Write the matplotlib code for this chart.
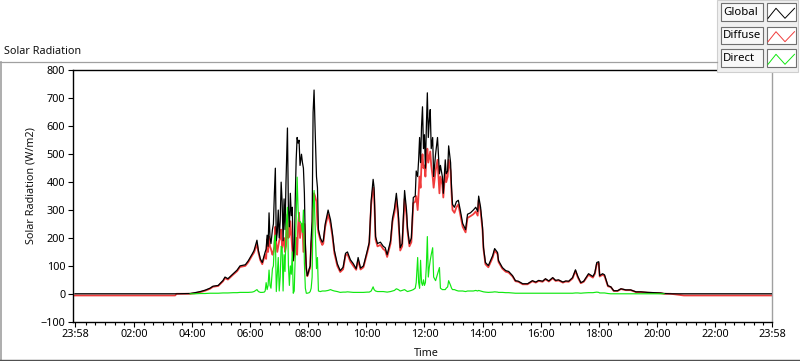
import numpy as np
import matplotlib
matplotlib.use("Agg")
import matplotlib.pyplot as plt
from matplotlib.patches import Rectangle
from matplotlib.ticker import FixedLocator

nan = np.nan

# time of day in minutes after midnight (first point is 23:58 of the day before)
minutes = [-2, 205, 208, 236, 246, 257, 267, 277, 283, 294, 304, 308, 314, 325, 333, 339, 350, 356, 364, 368,
           374, 377, 381, 385, 389, 391, 393, 395, 397, 399, 401, 403, 406, 408, 410, 412, 414, 416, 418, 420,
           422, 424, 426, 428, 430, 432, 434, 437, 439, 441, 443, 445, 447, 449, 451, 453, 455, 457, 459, 461,
           463, 466, 468, 470, 472, 474, 476, 478, 480, 482, 484, 486, 488, 490, 492, 494, 497, 499, 501, 505,
           509, 511, 515, 521, 526, 530, 534, 540, 546, 552, 557, 561, 567, 573, 579, 583, 588, 594, 602, 606,
           610, 614, 616, 619, 623, 629, 635, 639, 643, 650, 654, 658, 662, 666, 670, 674, 679, 683, 685, 689,
           693, 697, 701, 703, 706, 708, 710, 712, 714, 716, 718, 720, 722, 724, 726, 728, 730, 732, 734, 737,
           739, 743, 747, 751, 753, 757, 759, 763, 765, 768, 770, 774, 776, 778, 782, 786, 790, 794, 799, 805,
           809, 815, 821, 826, 830, 832, 836, 840, 842, 846, 852, 861, 865, 871, 873, 881, 888, 894, 902, 908,
           914, 923, 933, 943, 950, 956, 964, 970, 977, 985, 991, 997, 1006, 1012, 1018, 1026, 1032, 1037, 1043, 1049,
           1059, 1068, 1072, 1076, 1080, 1082, 1088, 1092, 1099, 1105, 1111, 1119, 1126, 1136, 1146, 1157, 1167, 1181, 1194, 1208,
           1215, 1229, 1256, 1438]

global_rad = [0, 0, 0, 1, 4, 8, 13, 20, 27, 30, 48, 60, 54, 72, 85, 100, 104, 118, 142, 155,
              192, 155, 125, 112, 137, 150, 160, 210, 170, 290, 200, 180, 230, 250, 360, 450, 190, 220, 300, 200,
              260, 400, 330, 190, 340, 230, 400, 594, 300, 240, 360, 280, 310, 120, 150, 330, 480, 560, 540, 550,
              460, 500, 470, 450, 360, 180, 90, 65, 75, 90, 100, 200, 260, 650, 730, 600, 420, 380, 230, 200,
              185, 190, 250, 300, 265, 215, 155, 108, 83, 95, 145, 150, 122, 108, 90, 130, 92, 100, 155, 185,
              335, 410, 380, 205, 180, 185, 170, 165, 140, 190, 270, 305, 360, 290, 165, 180, 370, 300, 235, 180,
              200, 345, 350, 440, 420, 480, 560, 470, 600, 670, 520, 570, 450, 600, 720, 560, 620, 660, 520, 560,
              420, 500, 560, 430, 460, 420, 360, 480, 430, 440, 530, 470, 380, 320, 310, 330, 335, 300, 252, 230,
              285, 290, 300, 310, 295, 350, 310, 238, 166, 112, 101, 137, 162, 148, 119, 94, 83, 80, 65, 47,
              45, 36, 36, 47, 42, 48, 45, 54, 46, 58, 48, 50, 42, 46, 45, 58, 86, 62, 40, 45,
              72, 62, 75, 112, 115, 65, 72, 68, 29, 25, 11, 11, 18, 14, 14, 7, 7, 5, 4, 3,
              1, 0, 0, 0]

diffuse_rad = [-6, -6, 0, 0, 2, 6, 11, 18, 25, 28, 45, 56, 51, 69, 81, 96, 100, 113, 137, 148,
               178, 148, 120, 106, 131, 140, 125, 195, 150, 205, 170, 160, 140, 150, 170, 240, 180, 150, 170, 190,
               200, 230, 165, 180, 200, 150, 170, 284, 200, 210, 260, 210, 160, 118, 140, 200, 200, 140, 240, 290,
               200, 250, 250, 150, 250, 160, 88, 63, 72, 86, 92, 180, 200, 350, 360, 350, 330, 250, 220, 192,
               175, 180, 240, 285, 250, 205, 145, 100, 78, 88, 138, 142, 115, 100, 86, 120, 87, 95, 148, 178,
               320, 380, 360, 195, 170, 175, 160, 155, 132, 180, 258, 290, 340, 270, 155, 170, 340, 280, 225, 170,
               185, 325, 330, 350, 300, 360, 420, 380, 470, 500, 450, 460, 420, 480, 520, 470, 490, 510, 460, 420,
               380, 440, 480, 360, 420, 390, 345, 440, 400, 420, 480, 440, 360, 300, 290, 310, 320, 285, 240, 220,
               272, 278, 285, 295, 280, 335, 295, 228, 160, 106, 95, 130, 155, 142, 114, 90, 79, 76, 62, 45,
               43, 34, 34, 45, 40, 46, 43, 52, 44, 56, 46, 48, 40, 44, 43, 55, 82, 58, 38, 43,
               68, 58, 71, 106, 110, 62, 68, 64, 27, 24, 10, 10, 17, 13, 13, 6, 6, 4, 3, 2,
               0, 0, -6, -6]

direct_rad = [nan, nan, nan, 0, 0, 1, 1, 2, 2, 2, 3, 3, 3, 4, 4, 5, 5, 5, 6, 8,
              15, 8, 5, 5, 6, 10, 40, 15, 30, 85, 30, 20, 90, 100, 190, 210, 8, 70, 130, 10,
              60, 170, 165, 10, 140, 80, 230, 310, 100, 30, 100, 70, 150, 2, 10, 130, 280, 418, 300, 260,
              260, 250, 220, 300, 110, 20, 2, 2, 3, 4, 8, 20, 60, 300, 370, 250, 90, 130, 10, 8,
              10, 10, 10, 12, 15, 12, 10, 8, 5, 6, 6, 7, 6, 5, 5, 5, 5, 5, 6, 6,
              10, 25, 15, 10, 8, 8, 8, 7, 6, 8, 10, 12, 18, 15, 10, 12, 15, 10, 8, 10,
              12, 15, 20, 40, 130, 40, 20, 120, 40, 30, 50, 30, 40, 100, 205, 60, 95, 120, 140, 165,
              60, 47, 70, 94, 20, 15, 15, 15, 20, 25, 47, 30, 20, 15, 15, 12, 10, 10, 10, 8,
              10, 10, 10, 12, 10, 12, 10, 8, 7, 6, 5, 6, 7, 6, 5, 5, 4, 4, 3, 2,
              2, 2, 2, 2, 2, 2, 2, 2, 2, 2, 2, 2, 2, 2, 2, 2, 3, 3, 2, 3,
              4, 4, 5, 6, 5, 3, 3, 3, 1, 0, 0, 0, 0, 0, 0, 0, 0, 0, 0, 0,
              0, nan, nan, nan]

series_names = ['Global', 'Diffuse', 'Direct']
series_colors = ['#000000', '#f03c3c', '#10e810']

tick_minutes = [-2, 120, 240, 360, 480, 600, 720, 840, 960, 1080, 1200, 1320, 1438]
tick_labels = ['23:58', '02:00', '04:00', '06:00', '08:00', '10:00', '12:00',
               '14:00', '16:00', '18:00', '20:00', '22:00', '23:58']
y_ticks = [-100, 0, 100, 200, 300, 400, 500, 600, 700, 800]

plt.rcParams['font.family'] = ['Noto Sans', 'DejaVu Sans']

W, H = 800, 361
fig = plt.figure(figsize=(W / 100, H / 100), dpi=100)

# plot area in pixels
L, R, T, B = 73, 772, 70.5, 321.7
ax = fig.add_axes([L / W, 1 - B / H, (R - L) / W, (B - T) / H])

ax.plot(minutes, diffuse_rad, color=series_colors[1], lw=1.3, zorder=2)
ax.plot(minutes, global_rad, color=series_colors[0], lw=0.9, zorder=3)
ax.plot(minutes, direct_rad, color=series_colors[2], lw=0.85, zorder=4)

ax.set_xlim(-6, 1438)
ax.set_ylim(-100, 800)
ax.set_yticks(y_ticks)
ax.set_xticks(tick_minutes)
ax.set_xticklabels(tick_labels)
ax.xaxis.set_minor_locator(FixedLocator([m for m in range(20, 1440, 20) if m % 120]))
ax.tick_params(axis='both', which='major', length=3.6, width=0.8, labelsize=7.8, pad=2, colors='#000000')
ax.tick_params(axis='x', which='minor', length=2.2, width=0.8)
for s in ['top', 'left', 'bottom']:
    ax.spines[s].set_linewidth(1.0)
ax.spines['right'].set_color('#a0a0a0')
ax.spines['right'].set_linewidth(1.0)

fig.text(31 / W, 1 - 186 / H, 'Solar Radiation (W/m2)', rotation=90, ha='center', va='center',
         fontsize=7.8, color='#111111')
fig.text(426 / W, 1 - 354 / H, 'Time', ha='center', va='center', fontsize=7.8, color='#111111')
fig.text(4 / W, 1 - 51 / H, 'Solar Radiation', ha='left', va='center', fontsize=7.8, color='#111111')

# overlay in pixel coordinates for frame and legend
ov = fig.add_axes([0, 0, 1, 1], zorder=10)
ov.set_xlim(0, W)
ov.set_ylim(H, 0)
ov.axis('off')
ov.plot([0, 717], [62, 62], color='#a0a0a0', lw=0.9)
ov.plot([0.7, 0.7], [62, 361], color='#a0a0a0', lw=1.2)
ov.plot([0, 800], [360, 360], color='#505050', lw=1.0)

ov.add_patch(Rectangle((717, 0), 81, 72, fc='#f0f0f0', ec='#cfcfcf', lw=0.8))
row_tops = [3.3, 26.7, 49.3]
for name, col, top in zip(series_names, series_colors, row_tops):
    ov.add_patch(Rectangle((721, top), 41.7, 17.4, fc='#f8f8f8', ec='#707070', lw=0.8))
    ov.text(723, top + 8.9, name, ha='left', va='center', fontsize=8.2, color='#000000')
    ov.add_patch(Rectangle((766.7, top), 29.3, 17.4, fc='white', ec='#707070', lw=0.8))
    ov.plot([768, 776, 785, 794.5], [top + 15, top + 5, top + 15, top + 5], color=col, lw=0.7)

fig.savefig('out.png', dpi=100)
